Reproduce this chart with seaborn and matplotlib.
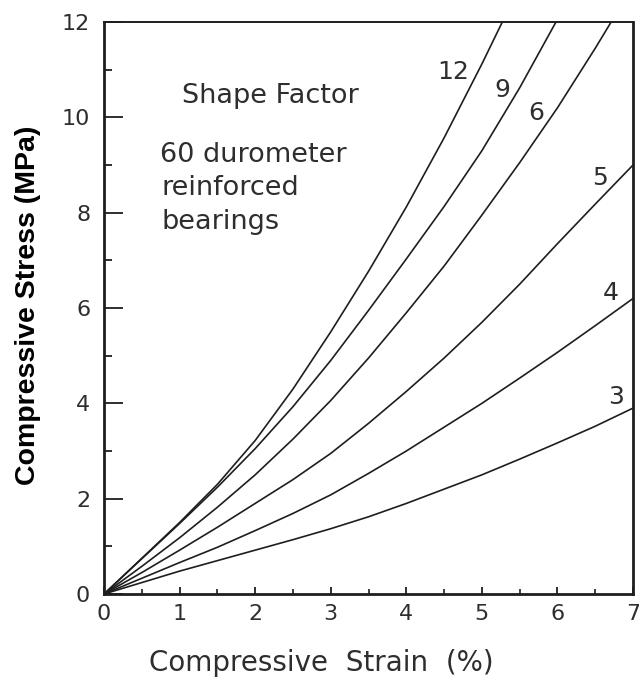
import matplotlib
matplotlib.use("Agg")
import matplotlib.pyplot as plt
import seaborn as sns
import pandas as pd
from matplotlib.ticker import MultipleLocator

# shape factor curves: strain (%) and stress (MPa)
sf3_strain = [0, 0.5, 1, 1.5, 2, 2.5, 3, 3.5, 4, 4.5, 5, 5.5, 6, 6.5, 7]
sf3_stress = [0, 0.24, 0.48, 0.7, 0.92, 1.14, 1.37, 1.62, 1.9, 2.2, 2.5, 2.83, 3.17, 3.52, 3.9]

sf4_strain = [0, 0.5, 1, 1.5, 2, 2.5, 3, 3.5, 4, 4.5, 5, 5.5, 6, 6.5, 7]
sf4_stress = [0, 0.33, 0.66, 0.98, 1.33, 1.69, 2.08, 2.53, 3.0, 3.5, 4.0, 4.53, 5.07, 5.63, 6.2]

sf5_strain = [0, 0.5, 1, 1.5, 2, 2.5, 3, 3.5, 4, 4.5, 5, 5.5, 6, 6.5, 7]
sf5_stress = [0, 0.45, 0.92, 1.4, 1.9, 2.4, 2.95, 3.58, 4.25, 4.95, 5.7, 6.5, 7.35, 8.18, 9.0]

sf6_strain = [0, 0.5, 1, 1.5, 2, 2.5, 3, 3.5, 4, 4.5, 5, 5.5, 6, 6.5, 6.71]
sf6_stress = [0, 0.58, 1.18, 1.82, 2.5, 3.25, 4.06, 4.95, 5.9, 6.88, 7.95, 9.05, 10.2, 11.45, 12]

sf9_strain = [0, 0.5, 1, 1.5, 2, 2.5, 3, 3.5, 4, 4.5, 5, 5.5, 5.98]
sf9_stress = [0, 0.74, 1.48, 2.24, 3.05, 3.93, 4.9, 5.95, 7.03, 8.13, 9.3, 10.62, 12]

sf12_strain = [0, 0.5, 1, 1.5, 2, 2.5, 3, 3.5, 4, 4.5, 5, 5.27]
sf12_stress = [0, 0.75, 1.5, 2.3, 3.22, 4.3, 5.5, 6.77, 8.12, 9.57, 11.12, 12]

shape_factors = ["3", "4", "5", "6", "9", "12"]
y_tick_labels = ["0", "2", "4", "6", "8", "10", "12"]

curves = {
    "3": (sf3_strain, sf3_stress),
    "4": (sf4_strain, sf4_stress),
    "5": (sf5_strain, sf5_stress),
    "6": (sf6_strain, sf6_stress),
    "9": (sf9_strain, sf9_stress),
    "12": (sf12_strain, sf12_stress),
}

rows = []
for sf in shape_factors:
    xs, ys = curves[sf]
    for x, y in zip(xs, ys):
        rows.append({"sf": sf, "strain": x, "stress": y})
df = pd.DataFrame(rows)

# where the curve numbers sit (data coords)
label_pos = {"12": (4.62, 10.95), "9": (5.27, 10.57), "6": (5.72, 10.09),
             "5": (6.56, 8.73), "4": (6.70, 6.31), "3": (6.77, 4.13)}

sns.set_style("ticks")
plt.rcParams["font.family"] = ["DejaVu Sans"]

ink = "#1e1e1e"
txt = "#2e2e2e"

fig = plt.figure(figsize=(6.39, 6.83), dpi=100)
ax = fig.add_axes([0.1628, 0.1303, 0.8279, 0.8375])

sns.lineplot(data=df, x="strain", y="stress", hue="sf", units="sf", estimator=None,
             palette={sf: ink for sf in shape_factors}, linewidth=1.2,
             legend=False, ax=ax)

ax.set_xlim(0, 7)
ax.set_ylim(0, 12)
ax.xaxis.set_major_locator(MultipleLocator(1))
ax.xaxis.set_minor_locator(MultipleLocator(0.5))
ax.yaxis.set_major_locator(MultipleLocator(2))
ax.yaxis.set_minor_locator(MultipleLocator(1))
ax.set_yticks(range(0, 13, 2))
ax.set_yticklabels(y_tick_labels)

ax.tick_params(axis="y", which="major", direction="in", length=14, width=1.3,
               labelsize=16, labelcolor=txt, pad=10, color=ink)
ax.tick_params(axis="y", which="minor", direction="in", length=6, width=1.3, color=ink)
ax.tick_params(axis="x", which="major", direction="in", length=5, width=1.3,
               labelsize=16, labelcolor=txt, pad=7, color=ink)
ax.tick_params(axis="x", which="minor", direction="in", length=3.5, width=1.2, color=ink)

for side in ["left", "bottom", "right"]:
    ax.spines[side].set_linewidth(2.0)
    ax.spines[side].set_color(ink)
ax.spines["top"].set_linewidth(1.4)
ax.spines["top"].set_color(ink)
ax.spines["right"].set_visible(True)
ax.spines["top"].set_visible(True)

for sf in shape_factors:
    lx, ly = label_pos[sf]
    ax.text(lx, ly, sf, fontsize=18, color=txt, ha="center", va="center")

ax.text(1.03, 10.45, "Shape Factor", fontsize=19.5, color=txt, ha="left", va="center")
ax.text(0.74, 9.21, "60 durometer", fontsize=19.5, color=txt, ha="left", va="center")
ax.text(0.76, 8.52, "reinforced", fontsize=19.5, color=txt, ha="left", va="center")
ax.text(0.76, 7.80, "bearings", fontsize=19.5, color=txt, ha="left", va="center")

ax.set_xlabel("Compressive  Strain  (%)", fontsize=20, color=txt)
ax.xaxis.set_label_coords(0.41, -0.096)
ax.set_ylabel("")
fig.text(28 / 639, 1 - 305 / 683, "Compressive Stress (MPa)", rotation=90,
         ha="center", va="center", fontsize=20.5, fontweight="bold",
         family=["Liberation Sans", "DejaVu Sans"], color="black")

fig.savefig("out.png", dpi=100)
